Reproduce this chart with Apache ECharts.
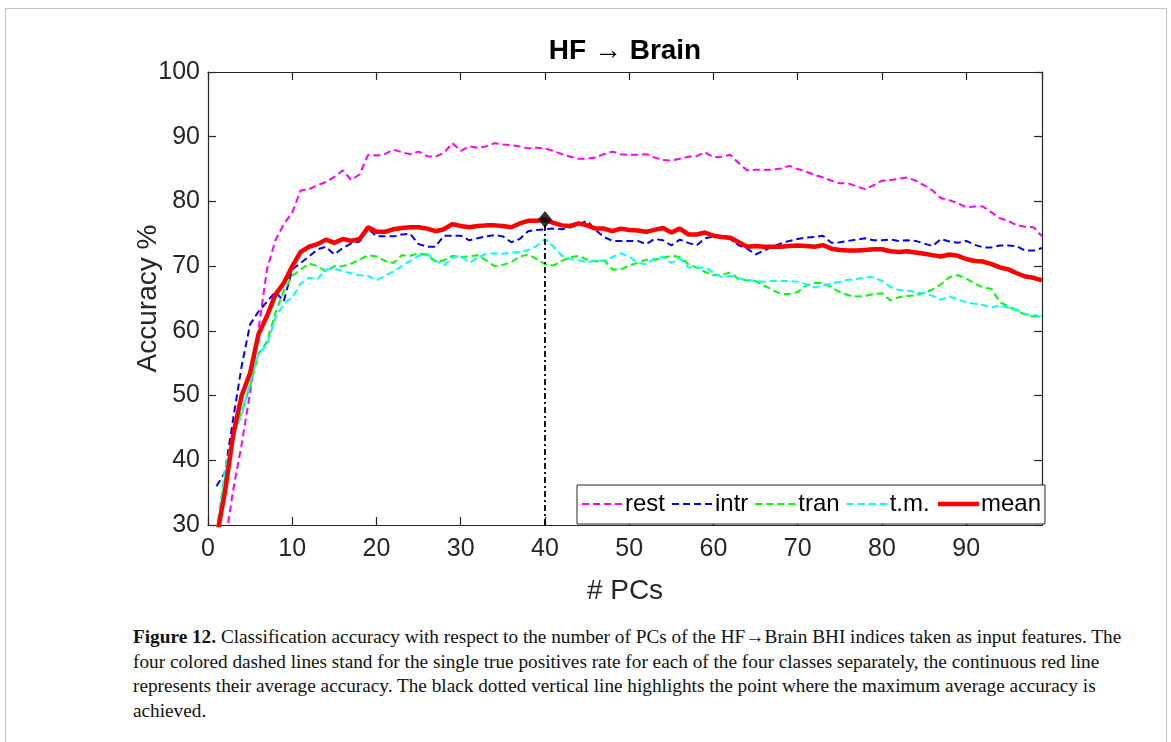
<!DOCTYPE html>
<html><head><meta charset="utf-8">
<script src="https://cdn.jsdelivr.net/npm/echarts@6/dist/echarts.min.js"></script>
<style>
html,body{margin:0;padding:0;background:#fff;width:1171px;height:742px;overflow:hidden;}
#frame{position:absolute;left:5px;top:8px;width:1160px;height:760px;border:1px solid #c4c4c4;}
#chart{position:absolute;left:0;top:0;width:1171px;height:612px;}
#caption{position:absolute;left:133px;top:625px;font-family:"Liberation Serif","DejaVu Serif",serif;font-size:18.5px;line-height:24.5px;color:#111;white-space:nowrap;}
#caption div{display:block;}
#caption span{display:inline-block;}
</style></head><body>
<div id="frame"></div>
<div id="chart"></div>
<div id="caption">
<div><span id="cap1"><b>Figure 12.</b> Classification accuracy with respect to the number of PCs of the HF→Brain BHI indices taken as input features. The</span></div>
<div><span>four colored dashed lines stand for the single true positives rate for each of the four classes separately, the continuous red line</span></div>
<div><span>represents their average accuracy. The black dotted vertical line highlights the point where the maximum average accuracy is</span></div>
<div><span>achieved.</span></div>
</div>
<script>
// Number of PCs (x categories 1..99)
const pcs = [];
for (let i = 1; i <= 99; i++) pcs.push(i);

const rest = [22,27,35.5,42.5,50.5,60.3,69.5,74.0,76.5,78.3,
  81.7,81.9,82.5,83.0,83.8,84.8,83.3,84.2,87.2,87.1,
  87.3,88.0,87.6,87.3,87.7,87.0,86.9,87.5,89.0,87.8,
  88.5,88.3,88.5,89.0,88.8,88.7,88.5,88.2,88.3,88.2,
  87.8,87.3,86.9,86.6,86.6,86.8,87.3,87.7,87.3,87.2,
  87.2,87.3,86.8,86.4,86.3,86.6,86.9,87.0,87.6,86.8,
  86.9,87.2,85.9,84.8,84.9,84.9,84.9,85.1,85.5,85.0,
  84.6,84.1,83.7,83.2,82.8,82.8,82.3,81.9,82.5,83.2,
  83.3,83.5,83.7,83.2,82.5,81.7,80.5,80.2,79.7,79.1,
  79.2,79.2,78.3,77.4,77.0,76.3,76.1,76.0,74.6];

const intr = [36.0,38.1,46.5,54.6,61.0,63.0,64.5,66.0,64.6,69.5,
  70.5,71.5,72.6,73.0,71.8,72.8,73.5,73.8,75.8,74.6,
  74.6,74.6,74.9,75.0,73.4,73.0,73.0,74.7,74.7,74.7,
  74.0,74.3,74.6,74.8,74.6,73.7,74.2,75.4,75.6,75.7,
  75.8,75.7,76.0,76.5,77.0,75.6,74.5,73.9,73.9,73.9,
  73.9,73.4,74.2,74.0,73.2,74.1,73.6,73.2,74.3,74.6,
  74.4,74.2,73.2,72.7,71.8,72.4,73.0,73.5,73.9,74.2,
  74.4,74.5,74.7,73.6,73.7,73.9,74.1,74.3,74.0,74.0,
  74.1,73.9,74.0,73.9,73.5,73.1,74.2,73.8,73.6,73.9,
  73.3,72.9,72.9,73.2,73.2,73.1,72.4,72.4,72.8];

const tran = [28,37.1,44.5,47.5,51.5,56.5,58.3,62.8,66.2,68.5,
  69.5,70.4,70.0,69.2,70.0,70.0,70.4,71.0,71.7,71.5,
  70.8,70.5,71.7,71.6,72.0,71.7,70.7,70.9,71.6,71.4,
  71.5,71.7,70.9,70.0,70.2,70.6,71.5,71.8,71.1,70.3,
  70.1,70.8,71.4,71.6,71.0,70.7,70.9,69.5,69.5,70.1,
  70.5,71.0,71.0,71.3,71.6,71.4,70.3,69.8,69.1,68.6,
  68.7,69.0,68.0,67.8,67.7,67.0,66.3,65.7,65.7,66.0,
  67.0,67.4,67.4,66.7,66.0,65.5,65.3,65.4,65.7,65.8,
  64.7,65.2,65.4,65.5,65.9,66.4,67.2,68.3,68.6,68.1,
  67.3,66.7,66.5,64.4,63.8,63.1,62.5,62.2,62.3];

const tm = [29,38.6,43.8,47.0,52.0,56.6,57.8,62.0,64.2,65.2,
  67.3,68.2,68.0,69.5,69.6,69.2,68.9,68.6,68.5,67.8,
  68.5,69.2,70.0,70.8,71.6,71.9,70.9,70.1,71.3,71.6,
  70.5,71.3,71.9,72.0,71.9,72.1,72.2,72.5,73.1,74.2,
  73.0,71.6,71.1,70.9,70.6,70.9,70.8,71.4,72.0,71.5,
  70.5,70.3,71.2,71.4,70.5,71.2,69.8,69.8,69.8,69.0,
  68.3,68.5,68.1,67.9,67.7,67.6,67.7,67.7,67.7,67.6,
  67.2,66.7,67.0,67.3,67.6,67.9,68.0,68.3,68.3,67.7,
  66.8,66.3,66.2,66.0,65.8,65.4,64.8,65.3,64.9,64.4,
  64.2,64.0,63.6,63.9,63.6,63.3,62.6,62.5,62.1];

const mean = [28,35,44,50,53.5,59.5,62.3,65.6,67.4,70.0,
  72.2,73.0,73.4,74.1,73.6,74.2,73.9,74.2,76.0,75.3,
  75.3,75.7,75.9,76.0,76.0,75.8,75.4,75.7,76.5,76.2,
  76.0,76.2,76.3,76.3,76.2,76.0,76.6,77.0,77.0,77.2,
  76.7,76.3,76.2,76.6,76.3,75.8,75.8,75.4,75.8,75.6,
  75.5,75.3,75.6,75.9,75.2,75.8,74.9,74.9,75.2,74.7,
  74.5,74.4,73.7,73.0,73.1,73.0,73.0,73.0,73.1,73.2,
  73.1,73.0,73.25,72.7,72.5,72.4,72.4,72.5,72.6,72.6,
  72.3,72.2,72.3,72.1,71.9,71.7,71.5,71.8,71.6,71.1,
  70.8,70.7,70.3,69.8,69.5,68.9,68.4,68.2,67.8];

const legendNames = ['rest','intr','tran','t.m.','mean'];
const seriesColors = ['#ff00ff','#0000ff','#00ff00','#00ffff','#ff0000'];
const xTicks = [0,10,20,30,40,50,60,70,80,90];
const yTicks = [30,40,50,60,70,80,90,100];

const allSeries = [rest,intr,tran,tm,mean];
let maxIdx = 0;
mean.forEach((v,i)=>{ if (v > mean[maxIdx]) maxIdx = i; });
const maxX = pcs[maxIdx], maxV = mean[maxIdx];

const axisColor = '#262626';
const FONT = '"Liberation Sans", Arial, Helvetica, sans-serif';

function lineStyleFor(k) {
  return k < 4 ? {color: seriesColors[k], width: 2, type: [7,4]} : {color: seriesColors[k], width: 4.5, type: 'solid'};
}

const chart = echarts.init(document.getElementById('chart'), null, {renderer:'canvas'});
const series = allSeries.map((arr, k) => ({
  name: legendNames[k],
  type: 'line',
  symbol: 'none',
  data: pcs.map((x,i)=>[x, arr[i]]),
  clip: true,
  lineStyle: lineStyleFor(k),
  itemStyle: {color: seriesColors[k]},
  z: k === 4 ? 4 : 3,
  animation: false
}));
series.push({
  name: 'maxline', type: 'line', symbol: 'none',
  data: [[maxX, yTicks[0]], [maxX, maxV]],
  lineStyle: {color: '#000', width: 1.8, type: [6,3,2,3]}, z: 5, animation: false
});
series.push({
  name: 'maxpoint', type: 'scatter', symbol: 'diamond', symbolSize: [14,17],
  data: [[maxX, maxV]], itemStyle: {color: '#000'}, z: 6, animation: false
});

const xAxisBase = {type:'value', min: xTicks[0], max: 99, interval: 10, splitLine:{show:false},
  axisLine:{show:true, onZero:false, lineStyle:{color:axisColor, width:1.2}},
  axisTick:{show:true, inside:true, length:8, lineStyle:{color:axisColor, width:1.2}}};
const yAxisBase = {type:'value', min: yTicks[0], max: yTicks[yTicks.length-1], interval: 10, splitLine:{show:false},
  axisLine:{show:true, onZero:false, lineStyle:{color:axisColor, width:1.2}},
  axisTick:{show:true, inside:true, length:8, lineStyle:{color:axisColor, width:1.2}}};

chart.setOption({
  animation: false,
  backgroundColor: 'transparent',
  grid: {left: 208, top: 72, width: 834, height: 453, containLabel: false},
  xAxis: [
    Object.assign({}, xAxisBase, {position:'bottom',
      axisLabel:{show:true, fontSize:25, color:axisColor, fontFamily:FONT, margin:12, showMaxLabel:false,
        formatter: v => xTicks.indexOf(v) >= 0 ? String(v) : ''},
      name:'# PCs', nameLocation:'middle', nameGap:52, nameMoveOverlap:false,
      nameTextStyle:{fontSize:28, color:axisColor, fontFamily:FONT}}),
    Object.assign({}, xAxisBase, {position:'top', axisLabel:{show:false}})
  ],
  yAxis: [
    Object.assign({}, yAxisBase, {position:'left',
      axisLabel:{show:true, fontSize:25, color:axisColor, fontFamily:FONT, margin:8},
      name:'Accuracy %', nameLocation:'middle', nameGap:46, nameRotate:90, nameMoveOverlap:false,
      nameTextStyle:{fontSize:28, color:axisColor, fontFamily:FONT}}),
    Object.assign({}, yAxisBase, {position:'right', axisLabel:{show:false}})
  ],
  legend: {
    data: legendNames.map((n,k) => ({name: n, lineStyle: lineStyleFor(k)})),
    left: 577, top: 485, orient: 'horizontal',
    itemWidth: 41, itemHeight: 14, itemGap: 6,
    padding: [7, 4, 8, 4],
    itemStyle: {opacity: 0},
    textStyle: {fontSize: 24, color: '#000', fontFamily: FONT, padding:[0,0,0,-3]},
    borderColor: axisColor, borderWidth: 1, backgroundColor: '#fff', borderRadius: 0
  },
  graphic: [{
    type: 'text', x: 625, y: 51,
    style: {text: 'HF → Brain', font: 'bold 28px ' + FONT, fill: '#000', align: 'center', verticalAlign: 'middle'}
  }],
  series: series
});

// fit caption width to the figure's text column
const cap1 = document.getElementById('cap1');
const w = cap1.getBoundingClientRect().width;
const fs = 18.5 * 989 / w;
document.getElementById('caption').style.fontSize = fs.toFixed(2) + 'px';
</script>
</body></html>
